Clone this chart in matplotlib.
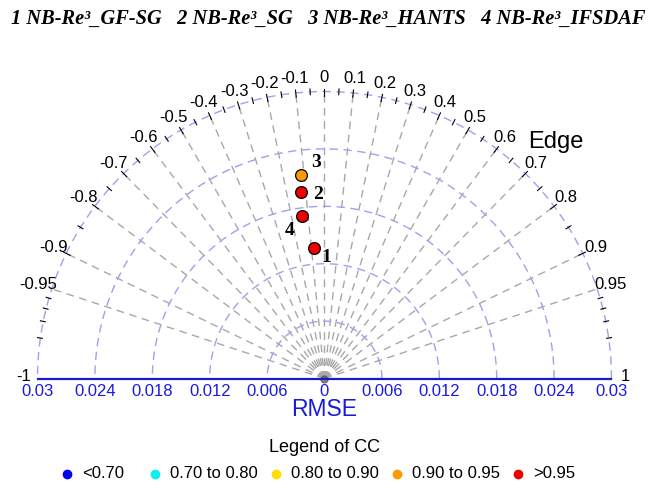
import numpy as np
import matplotlib.pyplot as plt

# model names and positions on the diagram
names = ["NB-Re³_GF-SG", "NB-Re³_SG", "NB-Re³_HANTS", "NB-Re³_IFSDAF"]
rmse = [0.01372, 0.01962, 0.02141, 0.01714]
cor = [-0.078, -0.127, -0.115, -0.135]
cc_group = [4, 4, 3, 4]

# legend classes of CC
cc_labels = ["<0.70", "0.70 to 0.80", "0.80 to 0.90", "0.90 to 0.95", ">0.95"]
cc_colors = ["#0000ee", "#11eeee", "#ffdd00", "#ff9900", "#ee0000"]

# axis values
rmse_max = 0.03
rmse_rings = [0.006, 0.012, 0.018, 0.024, 0.03]
rmse_ticks = [-0.03, -0.024, -0.018, -0.012, -0.006, 0, 0.006, 0.012, 0.018, 0.024, 0.03]
cor_labels = [-1, -0.95, -0.9, -0.8, -0.7, -0.6, -0.5, -0.4, -0.3, -0.2, -0.1, 0,
              0.1, 0.2, 0.3, 0.4, 0.5, 0.6, 0.7, 0.8, 0.9, 0.95, 1]
med_ticks = [-0.85, -0.75, -0.65, -0.55, -0.45, -0.35, -0.25, -0.15, -0.05,
             0.05, 0.15, 0.25, 0.35, 0.45, 0.55, 0.65, 0.75, 0.85]
small_ticks = [-0.99, -0.98, -0.97, -0.96, 0.96, 0.97, 0.98, 0.99]

W, H = 657, 491
cx, cy = 324.5, 378.5
S = 287 / rmse_max


def px(x, y):
    return (x - cx) / S, (cy - y) / S


fig = plt.figure(figsize=(W / 100, H / 100), dpi=100)
ax = fig.add_axes([0, 0, 1, 1])
ax.set_xlim(-cx / S, (W - cx) / S)
ax.set_ylim(-(H - cy) / S, cy / S)
ax.axis("off")

sans = "Liberation Sans"
serif = "Liberation Serif"

# radial grey lines
for c in cor_labels[1:-1]:
    a = np.arccos(c)
    ax.plot([0, rmse_max * np.cos(a)], [0, rmse_max * np.sin(a)], color="#a8a8a8",
            lw=1.0, linestyle=(0, (5.5, 4)), zorder=1)
ax.plot(0, 0, "o", ms=5, color="#555555", alpha=0.7, zorder=1)

# rmse rings
th = np.linspace(0, np.pi, 400)
for r in rmse_rings:
    ax.plot(r * np.cos(th), r * np.sin(th), color="#a0a0f0", lw=1.0,
            linestyle=(0, (6, 4)), zorder=1)

# baseline
ax.plot([-rmse_max, rmse_max], [0, 0], color="#1a1acc", lw=1.6, zorder=2)

# ticks on outer arc
for vals, inner in [(cor_labels[2:-2], 0.985), (med_ticks, 0.99), (small_ticks, 0.993)]:
    for c in vals:
        a = np.arccos(c)
        ax.plot([inner * rmse_max * np.cos(a), 1.01 * rmse_max * np.cos(a)],
                [inner * rmse_max * np.sin(a), 1.01 * rmse_max * np.sin(a)],
                color="black", lw=0.8, zorder=2)

# correlation labels
for c in cor_labels:
    a = np.arccos(c)
    yy = 1.05 * rmse_max * np.sin(a)
    if abs(c) == 1:
        yy += 2 / S
    ax.text(1.05 * rmse_max * np.cos(a), yy, f"{c:g}",
            ha="center", va="center", fontsize=12, family=sans)

# rmse labels along baseline
for t in rmse_ticks:
    ax.text(t, px(0, 392)[1], f"{abs(t):g}", ha="center", va="center",
            fontsize=12, family=sans, color="#1a1add")
ax.text(*px(324, 410), "RMSE", ha="center", va="center", fontsize=16.5,
        family=sans, color="#1a1add")
ax.text(*px(556, 142), "Edge", ha="center", va="center", fontsize=17, family=sans)

# points
offsets = [(12, 10), (17, 2), (15, -13), (-13, 14)]
for i, (r, c, g) in enumerate(zip(rmse, cor, cc_group)):
    a = np.arccos(c)
    x, y = r * np.cos(a), r * np.sin(a)
    ax.plot(x, y, "o", ms=8.5, mfc=cc_colors[g], mec="black", mew=0.9, zorder=5)
    dx, dy = offsets[i]
    ax.text(x + dx / S, y - dy / S, str(i + 1), ha="center", va="center",
            fontsize=14, fontweight="bold", family=serif, zorder=6)

# title with model names
title = "   ".join(f"{i + 1} {n}" for i, n in enumerate(names))
fig.text(0.5, 1 - 19 / H, title, ha="center", va="center", fontsize=14.7,
         fontweight="bold", fontstyle="italic", family=serif)

# legend of CC
ax.text(*px(325, 447), "Legend of CC", ha="center", va="center", fontsize=13, family=sans)
leg_x = [67, 155, 276, 397, 518]
for xx, lab, col in zip(leg_x, cc_labels, cc_colors):
    ax.plot(*px(xx, 474), "o", ms=6, color=col)
    ax.text(*px(xx + 15, 474), lab, ha="left", va="center", fontsize=12, family=sans)

fig.savefig("out.png", dpi=100)
